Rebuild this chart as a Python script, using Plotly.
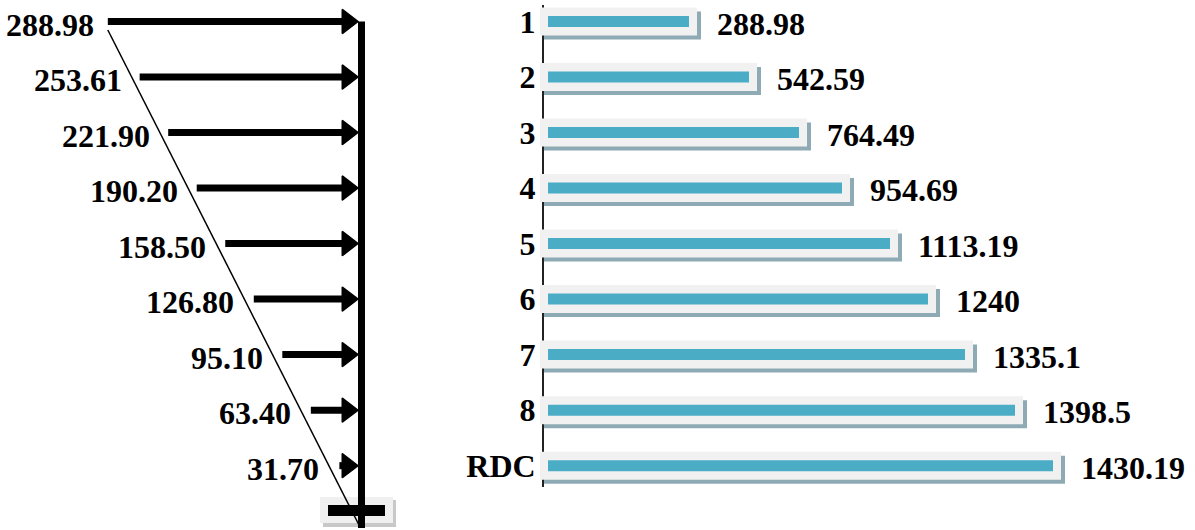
import plotly.graph_objects as go

# ---------------- data ----------------
loads = [288.98, 253.61, 221.90, 190.20, 158.50, 126.80, 95.10, 63.40, 31.70]
load_labels = ["288.98", "253.61", "221.90", "190.20", "158.50", "126.80", "95.10", "63.40", "31.70"]
levels = ["1", "2", "3", "4", "5", "6", "7", "8", "RDC"]
cumulative_labels = ["288.98", "542.59", "764.49", "954.69", "1113.19", "1240", "1335.1", "1398.5", "1430.19"]
# drawn bar lengths as they appear in the picture (relative units)
bar_lengths = [146, 206, 256, 299, 347, 385, 422, 472, 510]

rows = list(range(len(levels)))

# ---------------- geometry / style ----------------
W, H = 1195, 530
ROW0_PX, ROW_PX = 21.5, 55.52          # pixel of first row, pixels per row
def row_at(px):
    return (px - ROW0_PX) / ROW_PX

SPLIT = 0.44                            # left / right panel split (paper)
X0_PX, KX = 367.9, 0.9                  # left panel: pixel of x=0, px per unit
def lx(px):
    return (px - X0_PX) / KX

X2_0_PX = 543.0                         # right panel: pixel of x2=0 (1 unit = 1 px)

FONT = "Liberation Serif"
TXT = dict(family=FONT, size=32, color="black")

TIP = lx(358)                           # arrow tip x
HEAD_SIZE = 21
HEAD_C = TIP - (HEAD_SIZE / 2) / KX     # marker centre so tip lands at TIP
COL_X = lx(361.5)

fig = go.Figure()

# ---------- left panel: loads on the wall ----------
fig.add_trace(go.Scatter(x=[COL_X, COL_X], y=[rows[0], row_at(528)], mode="lines",
                         line=dict(color="black", width=7), xaxis="x", yaxis="y",
                         hoverinfo="skip", showlegend=False))
diag_x0, diag_y0 = -loads[0], row_at(30)
diag_x1, diag_y1 = lx(360), row_at(527)
fig.add_trace(go.Scatter(x=[diag_x0, diag_x1], y=[diag_y0, diag_y1], mode="lines",
                         line=dict(color="black", width=1.5), xaxis="x", yaxis="y",
                         hoverinfo="skip", showlegend=False))
sx, sy = [], []
for v, r in zip(loads, rows):
    sx += [-v, HEAD_C, None]
    sy += [r, r, None]
fig.add_trace(go.Scatter(x=sx, y=sy, mode="lines", line=dict(color="black", width=7),
                         xaxis="x", yaxis="y", hoverinfo="skip", showlegend=False))
fig.add_trace(go.Scatter(x=[HEAD_C] * len(rows), y=rows, mode="markers",
                         marker=dict(symbol="triangle-right", size=HEAD_SIZE, color="black",
                                     line=dict(width=1.5, color="black")),
                         xaxis="x", yaxis="y", hoverinfo="skip", showlegend=False))

annotations = []
for lab, r in zip(load_labels, rows):
    t = (r - diag_y0) / (diag_y1 - diag_y0)
    xd = diag_x0 + t * (diag_x1 - diag_x0)
    annotations.append(dict(x=xd, y=r, xref="x", yref="y", text="<b>%s</b>" % lab,
                            showarrow=False, xanchor="right", yanchor="middle",
                            xshift=-8, yshift=-3, font=TXT))

shapes = [
    dict(type="rect", xref="x", yref="y", x0=lx(323), x1=lx(396), y0=row_at(500), y1=row_at(527),
         fillcolor="#c8c8c8", line=dict(width=0), layer="below"),
    dict(type="rect", xref="x", yref="y", x0=lx(320), x1=lx(393), y0=row_at(497), y1=row_at(523),
         fillcolor="#f0f0f0", line=dict(width=0), layer="below"),
    dict(type="line", xref="x", yref="y", x0=lx(328), x1=lx(385), y0=row_at(510.5), y1=row_at(510.5),
         line=dict(color="black", width=11), layer="below"),
]

# ---------- right panel: cumulative bars ----------
sh_dy = 4 / ROW_PX
fig.add_trace(go.Bar(y=[r + sh_dy for r in rows], x=[L + 11 for L in bar_lengths], base=[1] * len(rows),
                     orientation="h", width=28 / ROW_PX, marker=dict(color="#8eaab4", line=dict(width=0)),
                     xaxis="x2", yaxis="y2", hoverinfo="skip", showlegend=False))
fig.add_trace(go.Bar(y=rows, x=[L + 11 for L in bar_lengths], base=[-3] * len(rows),
                     orientation="h", width=28 / ROW_PX, marker=dict(color="#f1f1f1", line=dict(width=0)),
                     xaxis="x2", yaxis="y2", hoverinfo="skip", showlegend=False))
fig.add_trace(go.Bar(y=rows, x=[L - 5 for L in bar_lengths], base=[5] * len(rows),
                     orientation="h", width=11 / ROW_PX, marker=dict(color="#4bacc6", line=dict(width=0)),
                     xaxis="x2", yaxis="y2", hoverinfo="skip", showlegend=False))

for lab, L, r in zip(cumulative_labels, bar_lengths, rows):
    annotations.append(dict(x=L + 8, y=r, xref="x2", yref="y2", text="<b>%s</b>" % lab,
                            showarrow=False, xanchor="left", yanchor="middle",
                            xshift=18, yshift=-2, font=TXT))

y2_top_px, y2_bot_px = 5, 487
fig.update_layout(
    width=W, height=H, margin=dict(l=0, r=0, t=0, b=0),
    paper_bgcolor="white", plot_bgcolor="rgba(0,0,0,0)",
    barmode="overlay", showlegend=False,
    xaxis=dict(domain=[0, SPLIT], range=[lx(0), lx(SPLIT * W)], visible=False, anchor="y"),
    yaxis=dict(domain=[0, 1], range=[row_at(H), row_at(0)], visible=False, anchor="x"),
    xaxis2=dict(domain=[SPLIT, 1], range=[SPLIT * W - X2_0_PX, W - X2_0_PX], visible=False, anchor="y2"),
    yaxis2=dict(domain=[(H - y2_bot_px) / H, (H - y2_top_px) / H],
                range=[row_at(y2_bot_px), row_at(y2_top_px)],
                anchor="free", position=X2_0_PX / W,
                tickvals=rows, ticktext=["<b>%s</b>" % s for s in levels],
                tickfont=TXT, ticks="", showgrid=False, zeroline=False,
                showline=True, linecolor="#222222", linewidth=2, layer="below traces"),
    annotations=annotations, shapes=shapes,
)

fig.write_html("out.html", config={"displayModeBar": False},
               post_script="document.body.style.margin='0';document.body.style.overflow='hidden';")
